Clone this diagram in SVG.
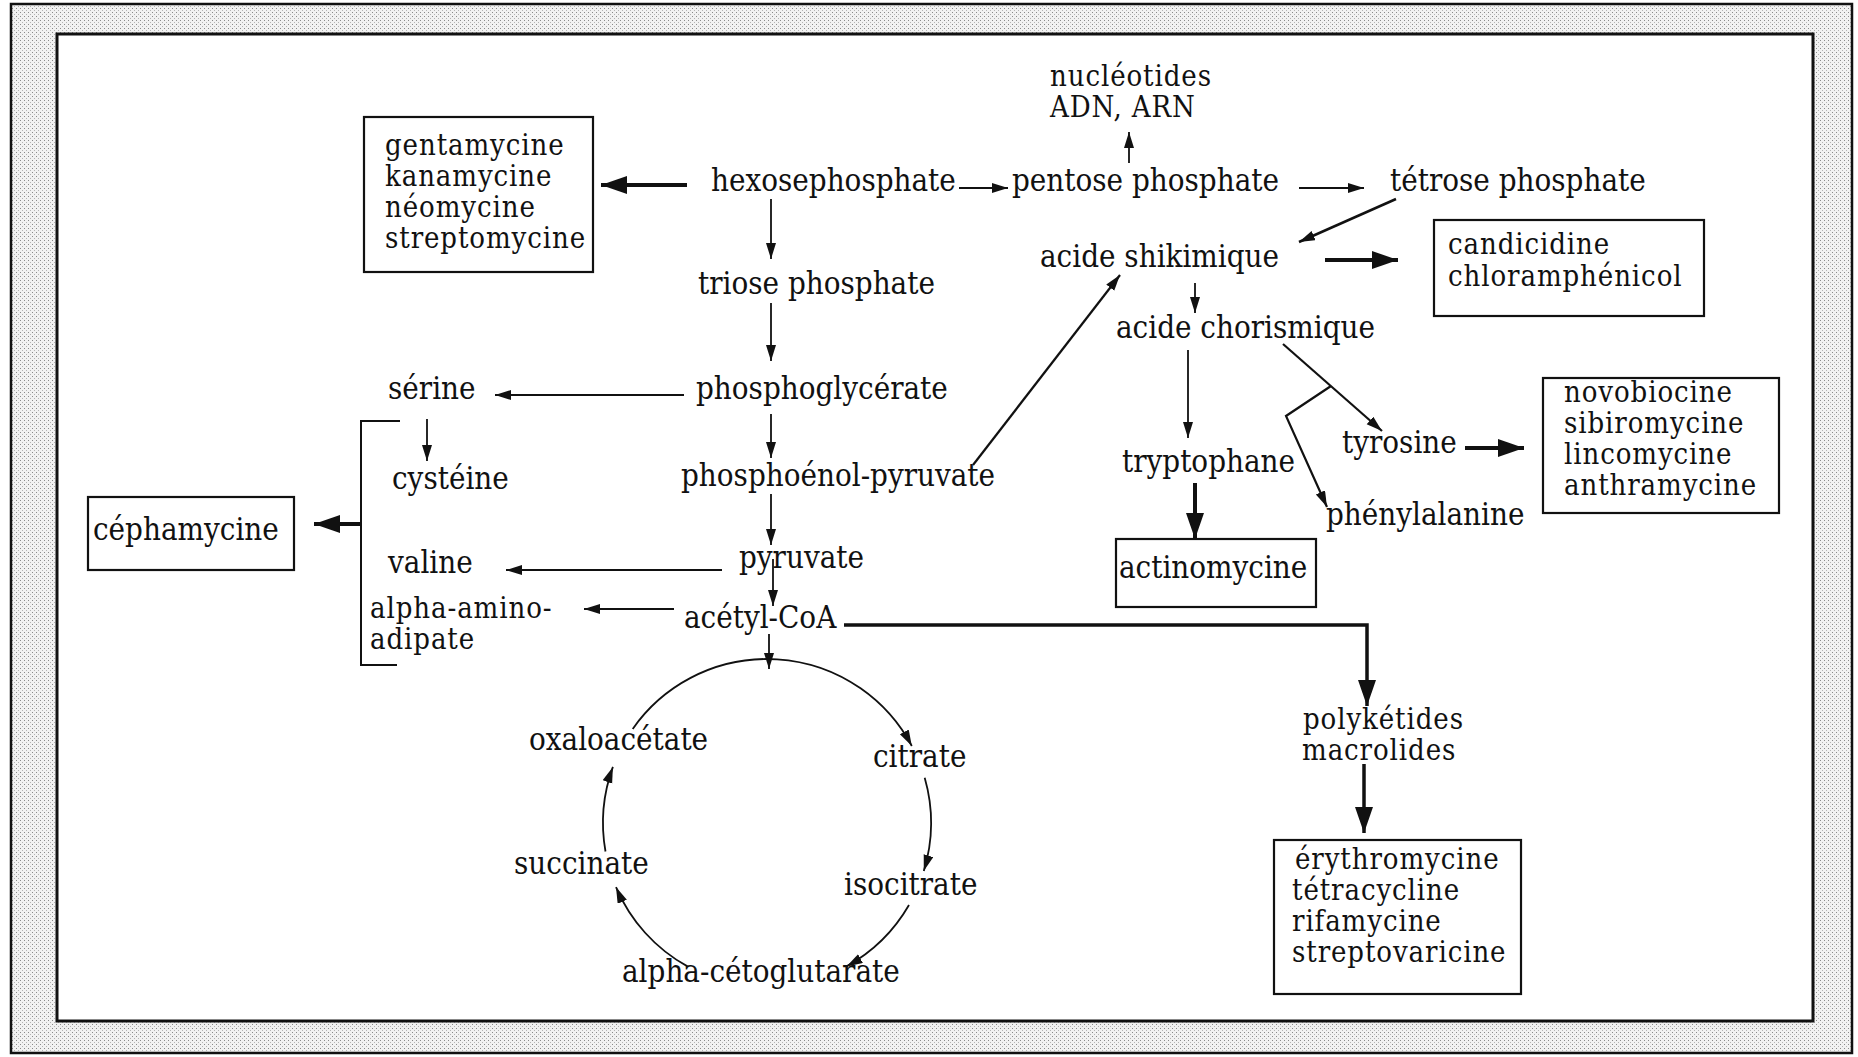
<svg xmlns="http://www.w3.org/2000/svg" width="1858" height="1057" viewBox="0 0 1858 1057">
<defs>
<pattern id="stip" width="4" height="4" patternUnits="userSpaceOnUse"><rect width="4" height="4" fill="#f2f2f2"/><rect width="1" height="1" fill="#8a8a8a"/><rect x="2" y="2" width="1" height="1" fill="#b4b4b4"/></pattern>
<marker id="ah" markerUnits="userSpaceOnUse" markerWidth="18" markerHeight="12" refX="16" refY="5" orient="auto"><path d="M0,0 L16,5 L0,10 Z" fill="#111"/></marker>
<marker id="ahb" markerUnits="userSpaceOnUse" markerWidth="28" markerHeight="20" refX="26" refY="9" orient="auto"><path d="M0,0 L26,9 L0,18 Z" fill="#111"/></marker>
</defs>
<style>
text{font-family:"DejaVu Serif Condensed","DejaVu Serif","Liberation Serif",serif;font-stretch:condensed;font-size:31px;fill:#111}
text.m{font-size:29px;letter-spacing:0.9px}
.box{fill:none;stroke:#111;stroke-width:2.2}
.t{fill:none;stroke:#111;stroke-width:1.8;marker-end:url(#ah)}
.k{fill:none;stroke:#111;stroke-width:4;marker-end:url(#ahb)}
.l{fill:none;stroke:#111;stroke-width:2}
</style>
<rect x="11" y="4" width="1841" height="1049" fill="url(#stip)" stroke="#111" stroke-width="2.5"/>
<rect x="57" y="34" width="1756" height="987" fill="#fff" stroke="#111" stroke-width="3"/>

<g id="connectors">
<path class="t" d="M959,188 L1008,188"/>
<path class="t" d="M1299,188 L1364,188"/>
<path class="t" d="M1129,163 L1129,132"/>
<path class="t" d="M1396,199 L1299,242" style="stroke-width:2.5"/>
<path class="t" d="M1195,283 L1195,313"/>
<path class="t" d="M1188,350 L1188,438"/>
<path class="t" d="M1283,344 L1382,431" style="stroke-width:2.2"/>
<path class="t" d="M1331,386 L1286,416 L1327,507" style="stroke-width:2.2"/>
<path class="t" d="M973,465 L1120,275" style="stroke-width:2.2"/>
<path class="t" d="M771,199 L771,259"/>
<path class="t" d="M771,303 L771,361"/>
<path class="t" d="M684,395 L495,395"/>
<path class="t" d="M427,419 L427,461"/>
<path class="t" d="M771,414 L771,458"/>
<path class="t" d="M771,494 L771,545"/>
<path class="t" d="M722,570 L506,570"/>
<path class="t" d="M773,559 L773,606"/>
<path class="t" d="M674,609 L584,609"/>
<path class="t" d="M769,634 L769,669"/>
<path class="t" d="M632.7,728.9 A164,164 0 0 1 911.8,746"/>
<path class="t" d="M924.7,777.8 A164,164 0 0 1 923.8,871"/>
<path class="t" d="M909,905 A164,164 0 0 1 846.5,966.4"/>
<path class="t" d="M687.5,966.4 A164,164 0 0 1 616,887.1"/>
<path class="t" d="M605.5,851.5 A164,164 0 0 1 612.9,766.9"/>
<path class="k" d="M687,185 L601,185"/>
<path class="k" d="M1325,260 L1398,260"/>
<path class="k" d="M1465,448 L1524,448"/>
<path class="k" d="M1195,483 L1195,539"/>
<path class="k" d="M361,524 L314,524"/>
<path class="k" d="M844,625 L1367,625 L1367,706" style="stroke-width:3.5"/>
<path class="k" d="M1364,764 L1364,833" style="stroke-width:3.5"/>
<path class="l" d="M400,421 L361,421 L361,665 L397,665"/>
</g>

<g id="nucleotides"><text class="m" x="1050" y="86">nucléotides<tspan x="1050" y="117">ADN, ARN</tspan></text></g>
<g id="hexosephosphate"><text x="711" y="191">hexosephosphate</text></g>
<g id="pentose"><text x="1012" y="191">pentose phosphate</text></g>
<g id="tetrose"><text x="1390" y="191">tétrose phosphate</text></g>
<g id="shikimique"><text x="1040" y="267">acide shikimique</text></g>
<g id="candicidine"><rect class="box" x="1434" y="220" width="270" height="96"/><text class="m" x="1448" y="254">candicidine<tspan x="1448" y="286">chloramphénicol</tspan></text></g>
<g id="chorismique"><text x="1116" y="338">acide chorismique</text></g>
<g id="tryptophane"><text x="1122" y="472">tryptophane</text></g>
<g id="tyrosine"><text x="1342" y="453">tyrosine</text></g>
<g id="phenylalanine"><text x="1326" y="525">phénylalanine</text></g>
<g id="novobiocine"><rect class="box" x="1543" y="378" width="236" height="135"/><text class="m" x="1564" y="402">novobiocine<tspan x="1564" y="433">sibiromycine</tspan><tspan x="1564" y="464">lincomycine</tspan><tspan x="1564" y="495">anthramycine</tspan></text></g>
<g id="actinomycine"><rect class="box" x="1116" y="539" width="200" height="68"/><text x="1119" y="578">actinomycine</text></g>
<g id="polyketides"><text class="m" x="1303" y="729">polykétides<tspan x="1302" y="760">macrolides</tspan></text></g>
<g id="erythromycine"><rect class="box" x="1274" y="840" width="247" height="154"/><text class="m" x="1295" y="869">érythromycine<tspan x="1292" y="900">tétracycline</tspan><tspan x="1292" y="931">rifamycine</tspan><tspan x="1292" y="962">streptovaricine</tspan></text></g>
<g id="gentamycine"><rect class="box" x="364" y="117" width="229" height="155"/><text class="m" x="385" y="155">gentamycine<tspan x="385" y="186">kanamycine</tspan><tspan x="385" y="217">néomycine</tspan><tspan x="385" y="248">streptomycine</tspan></text></g>
<g id="triose"><text x="698" y="294">triose phosphate</text></g>
<g id="phosphoglycerate"><text x="696" y="399">phosphoglycérate</text></g>
<g id="serine"><text x="388" y="399">sérine</text></g>
<g id="cysteine"><text x="392" y="489">cystéine</text></g>
<g id="pep"><text x="681" y="486">phosphoénol-pyruvate</text></g>
<g id="cephamycine"><rect class="box" x="88" y="497" width="206" height="73"/><text x="93" y="540">céphamycine</text></g>
<g id="valine"><text x="388" y="573">valine</text></g>
<g id="pyruvate"><text x="739" y="568">pyruvate</text></g>
<g id="acetylcoa"><text x="684" y="628">acétyl-CoA</text></g>
<g id="aminoadipate"><text class="m" x="370" y="618">alpha-amino-<tspan x="370" y="649">adipate</tspan></text></g>
<g id="oxaloacetate"><text x="529" y="750">oxaloacétate</text></g>
<g id="citrate"><text x="873" y="767">citrate</text></g>
<g id="isocitrate"><text x="844" y="895">isocitrate</text></g>
<g id="succinate"><text x="514" y="874">succinate</text></g>
<g id="cetoglutarate"><text x="622" y="982">alpha-cétoglutarate</text></g>
</svg>
